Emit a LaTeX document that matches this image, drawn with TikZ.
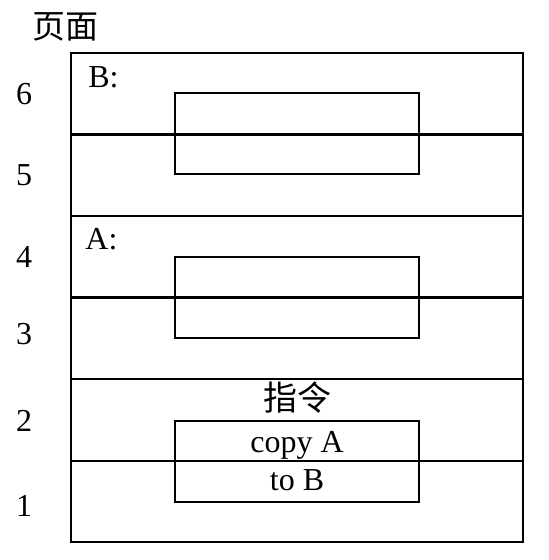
\documentclass[tikz,border=0pt]{standalone}
\usepackage{fontspec}
\setmainfont{Liberation Serif}
\newfontfamily\cjk{Noto Sans CJK SC}
\usetikzlibrary{positioning}
\tikzstyle{frame} = [line width=1.3pt]
\tikzstyle{block} = [draw,line width=1.3pt,minimum width=122pt,minimum height=40.5pt,inner sep=0pt,outer sep=0pt]
\tikzstyle{num} = [font=\fontsize{16}{16}\selectfont]
\tikzstyle{lab} = [anchor=west,inner sep=0pt,font=\fontsize{16}{16}\selectfont]
\tikzstyle{txt} = [anchor=base,inner sep=0pt,font=\fontsize{16}{16}\selectfont]

\begin{document}
\begin{tikzpicture}[x=0.5pt,y=-0.5pt]
\useasboundingbox (0,0) rectangle (549,560);

% page frame and page borders
\draw[frame] (71,53) rectangle (523,542);
\foreach \y in {134.5,216,297.5,379,461}
{
\draw[frame] (71,\y) -- (523,\y);
}

% page numbers
\foreach \n/\y in {6/94,5/175,4/257,3/334,2/421,1/506}
{
\node[num] (num\n) at (24,\y) {\n};
}
\node[font=\cjk\fontsize{16.5}{16.5}\selectfont] (title) at (65,27) {页面};

% data B and A
\node[lab] (labB) at (88,77) {B:};
\node[block] (blkB) at (297,133.5) {};
\node[lab] (labA) at (85,239) {A:};
\node[block] (blkA) at (297,297.5) {};

% instruction
\node[font=\cjk\fontsize{17}{17}\selectfont] (labI) at (297,398) {指令};
\node[block] (blkI) at (297,461.5) {};
\node[txt] (copyA) at (297,452) {copy A};
\node[txt] (toB) at (297,490) {to B};

\end{tikzpicture}
\end{document}
